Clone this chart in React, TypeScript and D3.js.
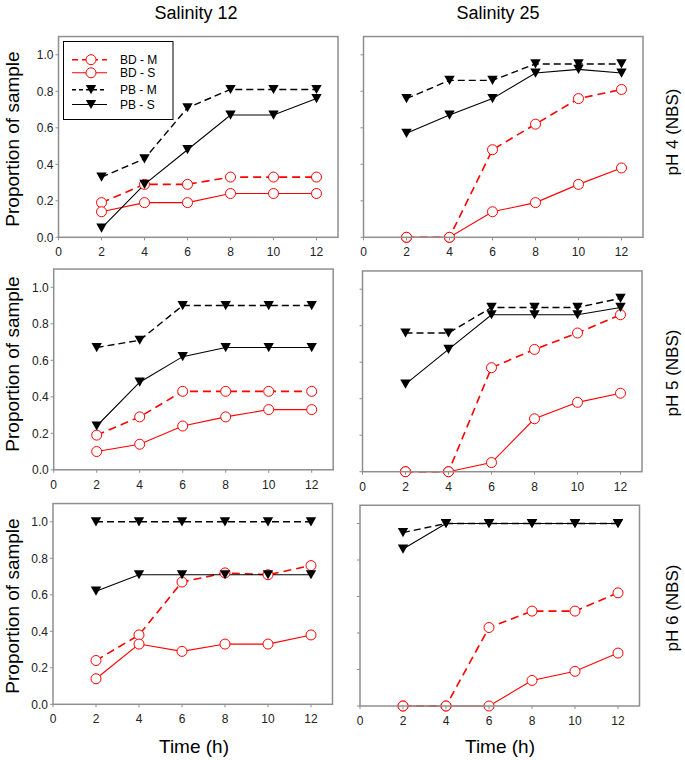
import React from "react";
import * as d3 from "d3";

const times = [2, 4, 6, 8, 10, 12];
const xTicks = [0, 2, 4, 6, 8, 10, 12];
const yTicks = [0, 0.2, 0.4, 0.6, 0.8, 1.0];
const seriesNames = ["BD - M", "BD - S", "PB - M", "PB - S"];
const salinityLabels = ["Salinity 12", "Salinity 25"];
const phLabels = ["pH 4 (NBS)", "pH 5 (NBS)", "pH 6 (NBS)"];
const yLabel = "Proportion of sample";
const xLabel = "Time (h)";

// pH 4, salinity 12
const ph4s12BDM = [0.19, 0.29, 0.29, 0.33, 0.33, 0.33];
const ph4s12BDS = [0.14, 0.19, 0.19, 0.24, 0.24, 0.24];
const ph4s12PBM = [0.33, 0.43, 0.71, 0.81, 0.81, 0.81];
const ph4s12PBS = [0.05, 0.29, 0.48, 0.67, 0.67, 0.76];
// pH 4, salinity 25
const ph4s25BDM = [0, 0, 0.48, 0.62, 0.76, 0.81];
const ph4s25BDS = [0, 0, 0.14, 0.19, 0.29, 0.38];
const ph4s25PBM = [0.76, 0.86, 0.86, 0.95, 0.95, 0.95];
const ph4s25PBS = [0.57, 0.67, 0.76, 0.9, 0.92, 0.9];
// pH 5, salinity 12
const ph5s12BDM = [0.19, 0.29, 0.43, 0.43, 0.43, 0.43];
const ph5s12BDS = [0.1, 0.14, 0.24, 0.29, 0.33, 0.33];
const ph5s12PBM = [0.67, 0.71, 0.9, 0.9, 0.9, 0.9];
const ph5s12PBS = [0.24, 0.48, 0.62, 0.67, 0.67, 0.67];
// pH 5, salinity 25
const ph5s25BDM = [0, 0, 0.57, 0.67, 0.76, 0.86];
const ph5s25BDS = [0, 0, 0.05, 0.29, 0.38, 0.43];
const ph5s25PBM = [0.76, 0.76, 0.9, 0.9, 0.9, 0.95];
const ph5s25PBS = [0.48, 0.67, 0.86, 0.86, 0.86, 0.9];
// pH 6, salinity 12
const ph6s12BDM = [0.24, 0.38, 0.67, 0.72, 0.71, 0.76];
const ph6s12BDS = [0.14, 0.33, 0.29, 0.33, 0.33, 0.38];
const ph6s12PBM = [1, 1, 1, 1, 1, 1];
const ph6s12PBS = [0.62, 0.71, 0.71, 0.71, 0.71, 0.71];
// pH 6, salinity 25
const ph6s25BDM = [0, 0, 0.43, 0.52, 0.52, 0.62];
const ph6s25BDS = [0, 0, 0, 0.14, 0.19, 0.29];
const ph6s25PBM = [0.95, 1, 1, 1, 1, 1];
const ph6s25PBS = [0.86, 1, 1, 1, 1, 1];

const panelData = [
  [
    [ph4s12BDM, ph4s12BDS, ph4s12PBM, ph4s12PBS],
    [ph4s25BDM, ph4s25BDS, ph4s25PBM, ph4s25PBS],
  ],
  [
    [ph5s12BDM, ph5s12BDS, ph5s12PBM, ph5s12PBS],
    [ph5s25BDM, ph5s25BDS, ph5s25PBM, ph5s25PBS],
  ],
  [
    [ph6s12BDM, ph6s12BDS, ph6s12PBM, ph6s12PBS],
    [ph6s25BDM, ph6s25BDS, ph6s25PBM, ph6s25PBS],
  ],
];

// layout
const panelLeft = [
  [58.5, 363.5],
  [53.7, 362.5],
  [53, 360],
];
const panelBottom = [
  [237.3, 237.3],
  [469.8, 471.7],
  [704.3, 706],
];
const PW = 279.5;
const PH = 200.75;
const rowLabelY = [139, 364, 606];
const phLabelY = [132, 373, 608];

const seriesStyle = [
  { color: "#ff0000", dash: "8,5", width: 1.6, marker: "circle" },
  { color: "#ff0000", dash: null, width: 1.1, marker: "circle" },
  { color: "#000000", dash: "7,4", width: 1.4, marker: "tri" },
  { color: "#000000", dash: null, width: 1.1, marker: "tri" },
];

const FONT = "Liberation Sans, Arial, sans-serif";
const FRAME = "#8f8f8f";

function Marker({ kind, x, y }: { kind: string; x: number; y: number }) {
  if (kind === "circle") {
    return <circle cx={x} cy={y} r={5} fill="#fff" stroke="#ff0000" strokeWidth={1} />;
  }
  const w = 5.2;
  const h = 4.6;
  return (
    <path
      d={`M${x - w},${y - h}L${x + w},${y - h}L${x},${y + h}Z`}
      fill="#000"
    />
  );
}

function Panel({ row, col }: { row: number; col: number }) {
  const x0 = panelLeft[row][col];
  const yb = panelBottom[row][col];
  const x = d3.scaleLinear().domain([0, 13]).range([x0, x0 + PW]);
  const y = d3.scaleLinear().domain([0, 1.1]).range([yb, yb - PH]);
  const series = panelData[row][col];
  const line = d3
    .line<number>()
    .x((_, i) => x(times[i]))
    .y((d) => y(d));
  return (
    <g>
      {series.map((vals, si) => (
        <path
          key={"l" + si}
          d={line(vals) || ""}
          fill="none"
          stroke={seriesStyle[si].color}
          strokeWidth={seriesStyle[si].width}
          strokeDasharray={seriesStyle[si].dash || undefined}
        />
      ))}
      {series.map((vals, si) =>
        vals.map((v, i) => (
          <Marker key={"m" + si + "-" + i} kind={seriesStyle[si].marker} x={x(times[i])} y={y(v)} />
        ))
      )}
      <rect x={x0} y={yb - PH} width={PW} height={PH} fill="none" stroke={FRAME} strokeWidth={1.5} />
      {yTicks.map((t) => (
        <line key={"yt" + t} x1={x0 - 3} x2={x0} y1={y(t)} y2={y(t)} stroke={FRAME} strokeWidth={1} />
      ))}
      {xTicks.map((t) => (
        <line key={"xt" + t} x1={x(t)} x2={x(t)} y1={yb} y2={yb + 3} stroke={FRAME} strokeWidth={1} />
      ))}
      {col === 0 &&
        yTicks.map((t) => (
          <text
            key={"yl" + t}
            x={x0 - 5}
            y={y(t)}
            dy="0.35em"
            textAnchor="end"
            fontSize={12}
            fontFamily={FONT}
            fill="#222"
          >
            {d3.format(".1f")(t)}
          </text>
        ))}
      {xTicks.map((t) => (
        <text
          key={"xl" + t}
          x={x(t)}
          y={yb + 19}
          textAnchor="middle"
          fontSize={12}
          fontFamily={FONT}
          fill="#222"
        >
          {t}
        </text>
      ))}
    </g>
  );
}

function Legend() {
  const bx = 63.5;
  const by = 41.5;
  const rowsY = [59.7, 72.8, 89.7, 104.5];
  return (
    <g>
      <rect x={bx} y={by} width={109.5} height={78} fill="#fff" stroke="#000" strokeWidth={1} />
      {seriesNames.map((name, i) => (
        <g key={name}>
          <line
            x1={72}
            x2={107}
            y1={rowsY[i]}
            y2={rowsY[i]}
            stroke={seriesStyle[i].color}
            strokeWidth={seriesStyle[i].width}
            strokeDasharray={seriesStyle[i].dash ? (i === 0 ? "6,4" : "4,3") : undefined}
          />
          <Marker kind={seriesStyle[i].marker} x={91} y={rowsY[i]} />
          <text x={120} y={rowsY[i]} dy="0.36em" fontSize={12} fontFamily={FONT} fill="#000">
            {name}
          </text>
        </g>
      ))}
    </g>
  );
}

export default function App() {
  return (
    <svg
      width={685}
      height={760}
      style={{ position: "absolute", left: 0, top: 0, background: "#fff" }}
    >
      <rect x={0} y={0} width={685} height={760} fill="#fff" />
      {salinityLabels.map((s, i) => (
        <text
          key={s}
          x={i === 0 ? 196 : 498}
          y={19}
          textAnchor="middle"
          fontSize={18}
          fontFamily={FONT}
          fill="#000"
        >
          {s}
        </text>
      ))}
      {[0, 1, 2].map((r) => (
        <g key={"r" + r}>
          <Panel row={r} col={0} />
          <Panel row={r} col={1} />
          <text
            transform={`translate(19,${rowLabelY[r]}) rotate(-90)`}
            textAnchor="middle"
            fontSize={19}
            fontFamily={FONT}
            fill="#000"
          >
            {yLabel}
          </text>
          <text
            transform={`translate(678,${phLabelY[r]}) rotate(-90)`}
            textAnchor="middle"
            fontSize={17}
            fontFamily={FONT}
            fill="#000"
          >
            {phLabels[r]}
          </text>
        </g>
      ))}
      <Legend />
      <text x={194} y={753} textAnchor="middle" fontSize={19} fontFamily={FONT} fill="#000">
        {xLabel}
      </text>
      <text x={500} y={753} textAnchor="middle" fontSize={19} fontFamily={FONT} fill="#000">
        {xLabel}
      </text>
    </svg>
  );
}
